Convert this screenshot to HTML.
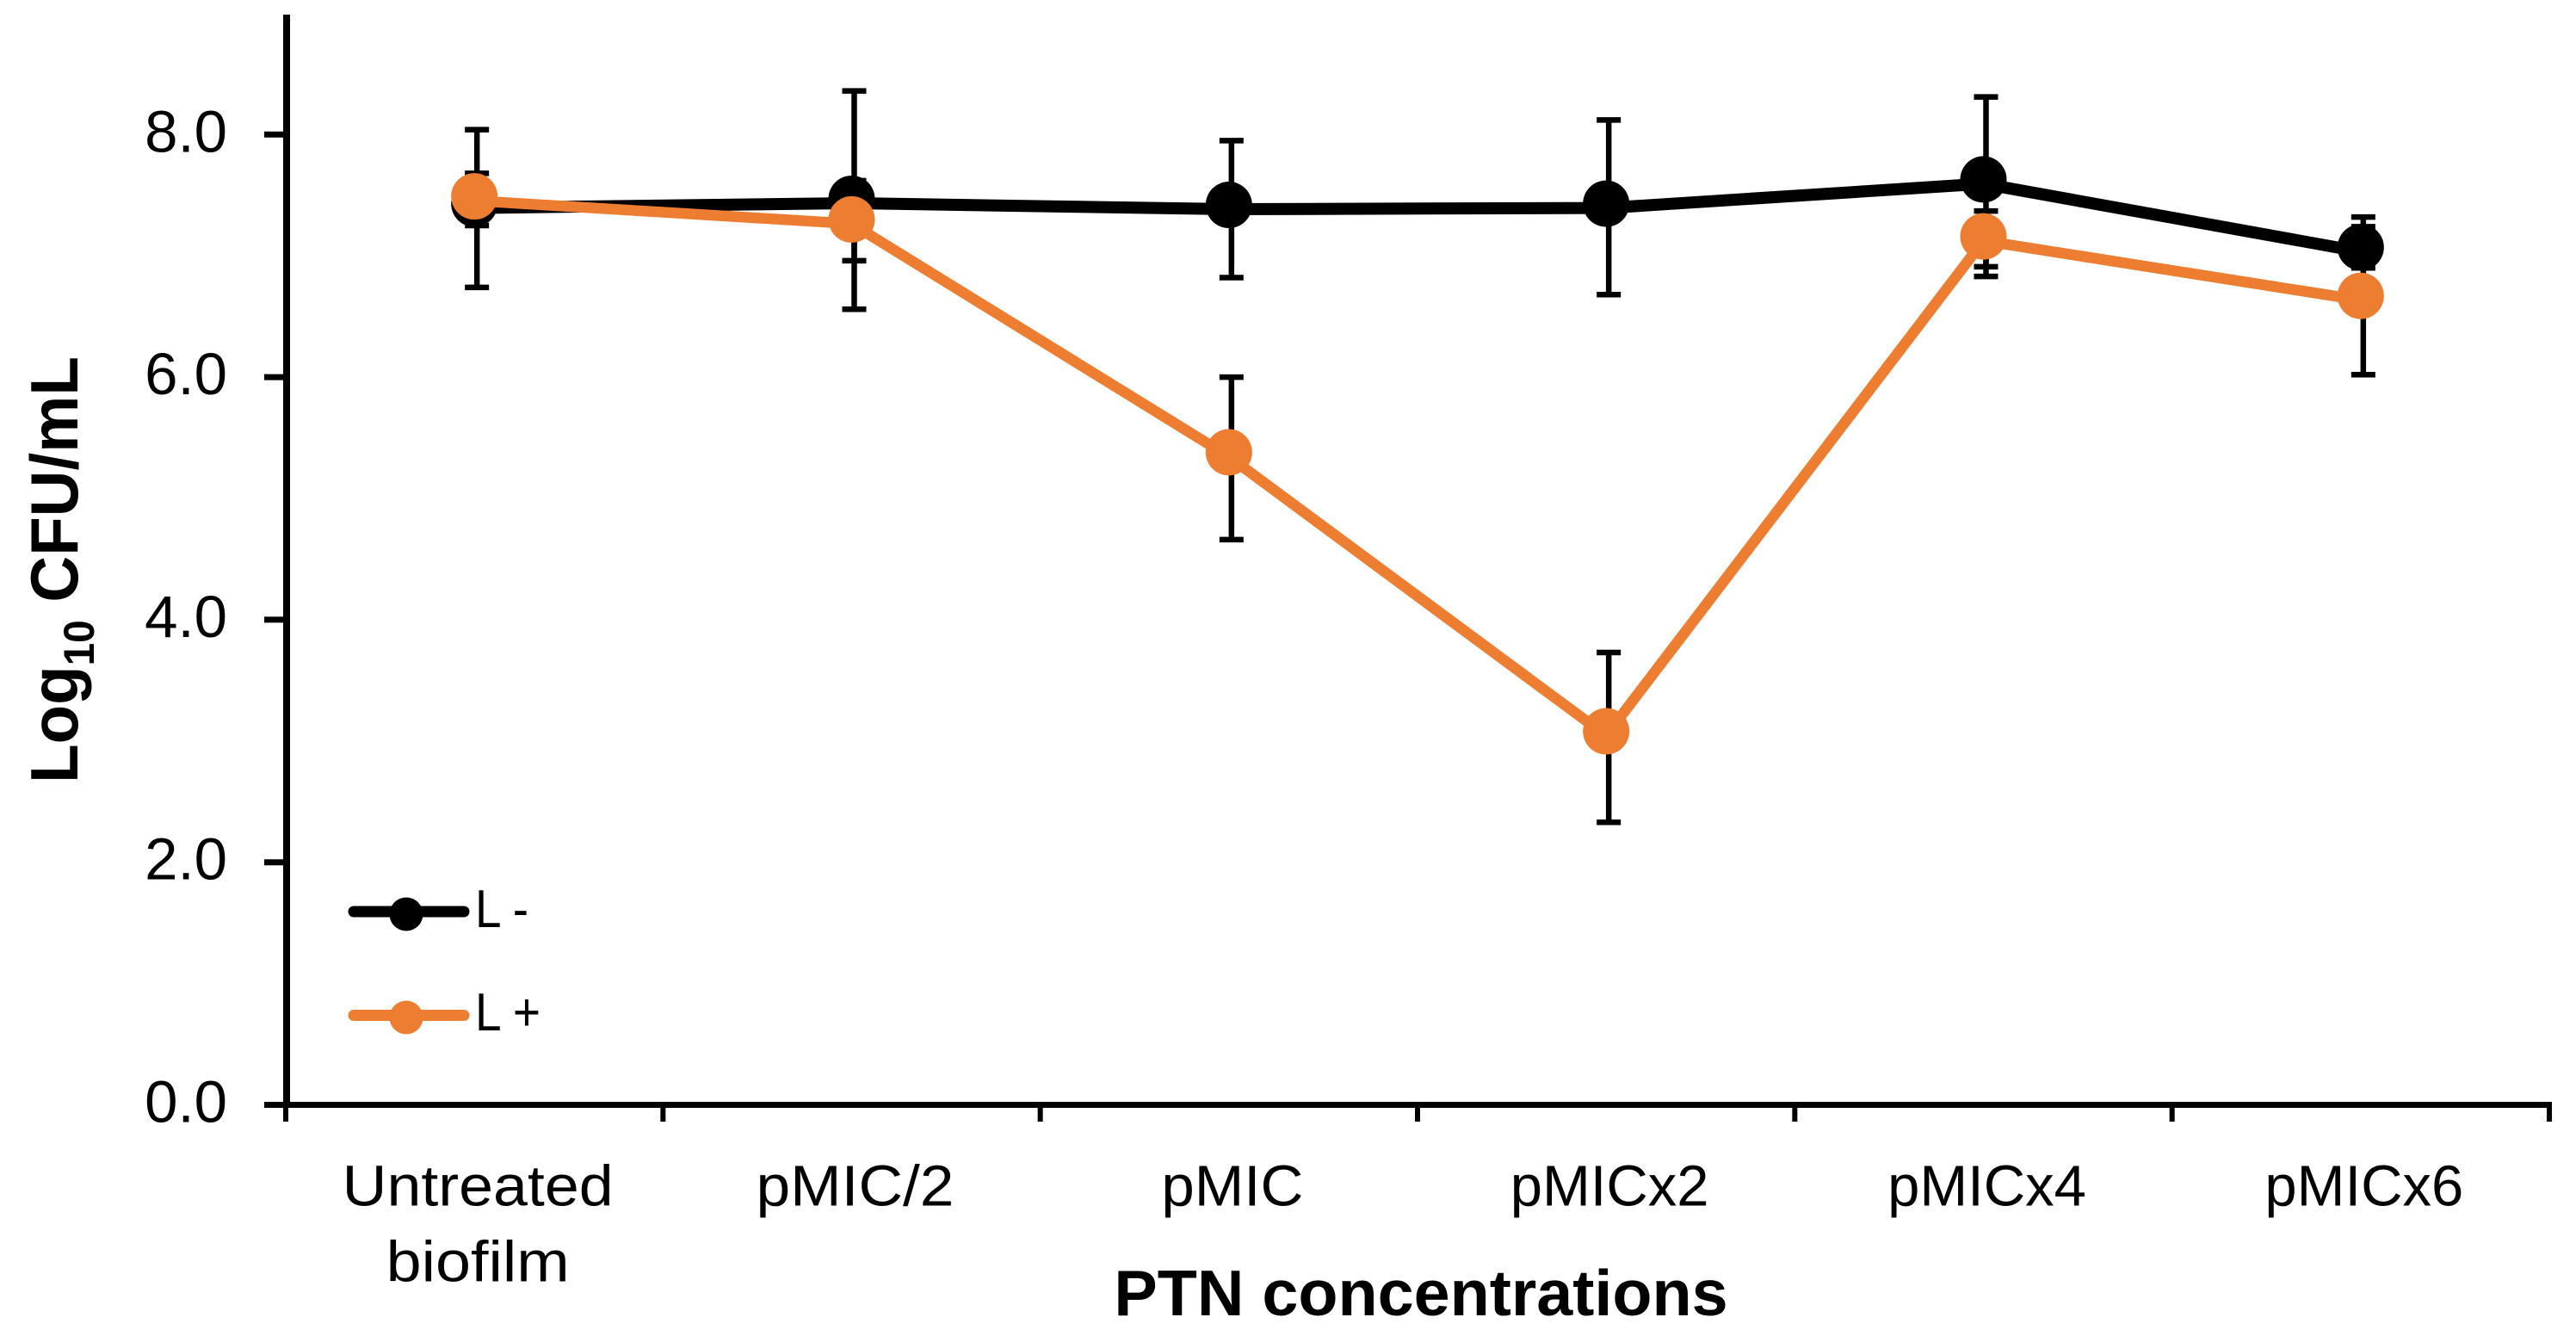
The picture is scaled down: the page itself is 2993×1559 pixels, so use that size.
<!DOCTYPE html>
<html lang="en">
<head>
<meta charset="utf-8">
<title>Log10 CFU/mL by PTN concentration</title>
<style>
  html, body { margin: 0; padding: 0; background: #fff; }
  body { width: 2993px; height: 1559px; overflow: hidden; }
  svg { display: block; }
  text { fill: #000; font-family: "Liberation Sans", sans-serif; }
</style>
</head>
<body>
<svg id="chart" xmlns="http://www.w3.org/2000/svg" width="2993" height="1559" viewBox="0 0 2993 1559">
  <rect x="0" y="0" width="2993" height="1559" fill="#ffffff"/>
  <g id="axes"></g>
  <g id="plot"></g>
  <text transform="translate(90,662) rotate(-90) scale(0.955,1)" text-anchor="middle" font-size="78" font-weight="700">Log<tspan font-size="50" dy="19">10</tspan><tspan dy="-19"> CFU/mL</tspan></text>
  <text x="1651" y="1528" text-anchor="middle" font-size="75.5" font-weight="700">PTN concentrations</text>
  <g>
    <g>
      <line x1="411" y1="1059" x2="539" y2="1059" stroke="#000000" stroke-width="13" stroke-linecap="round"/>
      <circle cx="472" cy="1062" r="19.5" fill="#000000"/>
      <text x="552" y="1077" font-size="62" textLength="62" lengthAdjust="spacingAndGlyphs">L -</text>
    </g>
    <g>
      <line x1="411" y1="1179.5" x2="539" y2="1179.5" stroke="#ED7D31" stroke-width="13" stroke-linecap="round"/>
      <circle cx="472" cy="1182" r="19.5" fill="#ED7D31"/>
      <text x="552" y="1197" font-size="62" textLength="76" lengthAdjust="spacingAndGlyphs">L +</text>
    </g>
  </g>
</svg>
<script>
const categories = [["Untreated", "biofilm"], ["pMIC/2"], ["pMIC"], ["pMICx2"], ["pMICx4"], ["pMICx6"]];
const yTickValues = [0, 2, 4, 6, 8];
const yTickLabels = ["0.0", "2.0", "4.0", "6.0", "8.0"];

const lMinusValues = [7.43, 7.47, 7.42, 7.43, 7.63, 7.07];
const lMinusErrUp = [0.61, 0.89, 0.53, 0.69, 0.68, 0.17];
const lMinusErrDown = [0.69, 0.91, 0.60, 0.75, 0.80, 0.17];

const lPlusValues = [7.49, 7.30, 5.38, 3.08, 7.16, 6.67];
const lPlusErrUp = [0.19, 0.32, 0.62, 0.65, 0.21, 0.65];
const lPlusErrDown = [0.24, 0.34, 0.72, 0.75, 0.25, 0.65];

const SVG_NS = "http://www.w3.org/2000/svg";
const plotLeft = 332, plotRight = 2962, plotBottom = 1283.5, yScale = 140.9;
const bandWidth = (plotRight - plotLeft) / categories.length;
const stretchedLabels = { "Untreated": 315, "biofilm": 213, "pMIC/2": 230, "pMIC": 165 };

function xAt(i) { return plotLeft + bandWidth * (i + 0.5); }
function yAt(v) { return plotBottom - v * yScale; }

function make(tag, parent, attrs, text) {
  const el = document.createElementNS(SVG_NS, tag);
  for (const k in attrs) el.setAttribute(k, attrs[k]);
  if (text !== undefined) el.textContent = text;
  parent.appendChild(el);
  return el;
}

const axes = document.getElementById("axes");
const plot = document.getElementById("plot");

const yAxisLine = make("line", axes, { x1: 333, y1: 17, x2: 333, y2: plotBottom + 3, stroke: "#000", "stroke-width": 8 });



const xAxisLine = make("line", axes, { x1: 307, y1: plotBottom, x2: plotRight + 3, y2: plotBottom, stroke: "#000", "stroke-width": 7 });



yTickValues.forEach(function (v, i) {
  const y = yAt(v);
  const tick = make("line", axes, { x1: 307, y1: y, x2: 333, y2: y, stroke: "#000", "stroke-width": 7 });
  
  
  const label = make("text", axes, { x: 264, y: y + 20, "text-anchor": "end", "font-size": 69 }, yTickLabels[i]);
  
  
});

for (let i = 0; i <= categories.length; i++) {
  const x = plotLeft + bandWidth * i;
  const tick = make("line", axes, { x1: x, y1: plotBottom, x2: x, y2: 1303, stroke: "#000", "stroke-width": 6 });
  
  
}

categories.forEach(function (lines, i) {
  lines.forEach(function (line, j) {
    const attrs = { x: xAt(i) + 4, y: 1400.5 + j * 88, "text-anchor": "middle", "font-size": 67 };
    if (stretchedLabels[line]) {
      attrs.textLength = stretchedLabels[line];
      attrs.lengthAdjust = "spacingAndGlyphs";
    }
    const label = make("text", axes, attrs, line);
    
    
  });
});

function drawErrorBars(values, up, down, offset) {
  values.forEach(function (v, i) {
    const x = xAt(i) + offset;
    const top = yAt(v + up[i]);
    const bottom = yAt(v - down[i]);
    const stem = make("line", plot, { x1: x, y1: top, x2: x, y2: bottom, stroke: "#000", "stroke-width": 6.5 });
    
    
    const capTop = make("line", plot, { x1: x - 14, y1: top, x2: x + 14, y2: top, stroke: "#000", "stroke-width": 6.5 });
    
    
    const capBottom = make("line", plot, { x1: x - 14, y1: bottom, x2: x + 14, y2: bottom, stroke: "#000", "stroke-width": 6.5 });
    
    
  });
}

function drawLine(values, color, name, width) {
  const pts = values.map(function (v, i) { return xAt(i) + "," + (yAt(v) + 5); }).join(" ");
  const line = make("polyline", plot, { points: pts, fill: "none", stroke: color, "stroke-width": width, "stroke-linejoin": "round" });
  
  
}

function drawMarkers(values, color, name) {
  values.forEach(function (v, i) {
    const dot = make("circle", plot, { cx: xAt(i), cy: yAt(v), r: 27, fill: color });
    
    
  });
}

drawErrorBars(lMinusValues, lMinusErrUp, lMinusErrDown, 3);
drawErrorBars(lPlusValues, lPlusErrUp, lPlusErrDown, 3);
drawLine(lMinusValues, "#000000", "series-line-l-minus", 14);
drawMarkers(lMinusValues, "#000000", "series-point-l-minus");
drawLine(lPlusValues, "#ED7D31", "series-line-l-plus", 12.5);
drawMarkers(lPlusValues, "#ED7D31", "series-point-l-plus");
</script>
</body>
</html>
